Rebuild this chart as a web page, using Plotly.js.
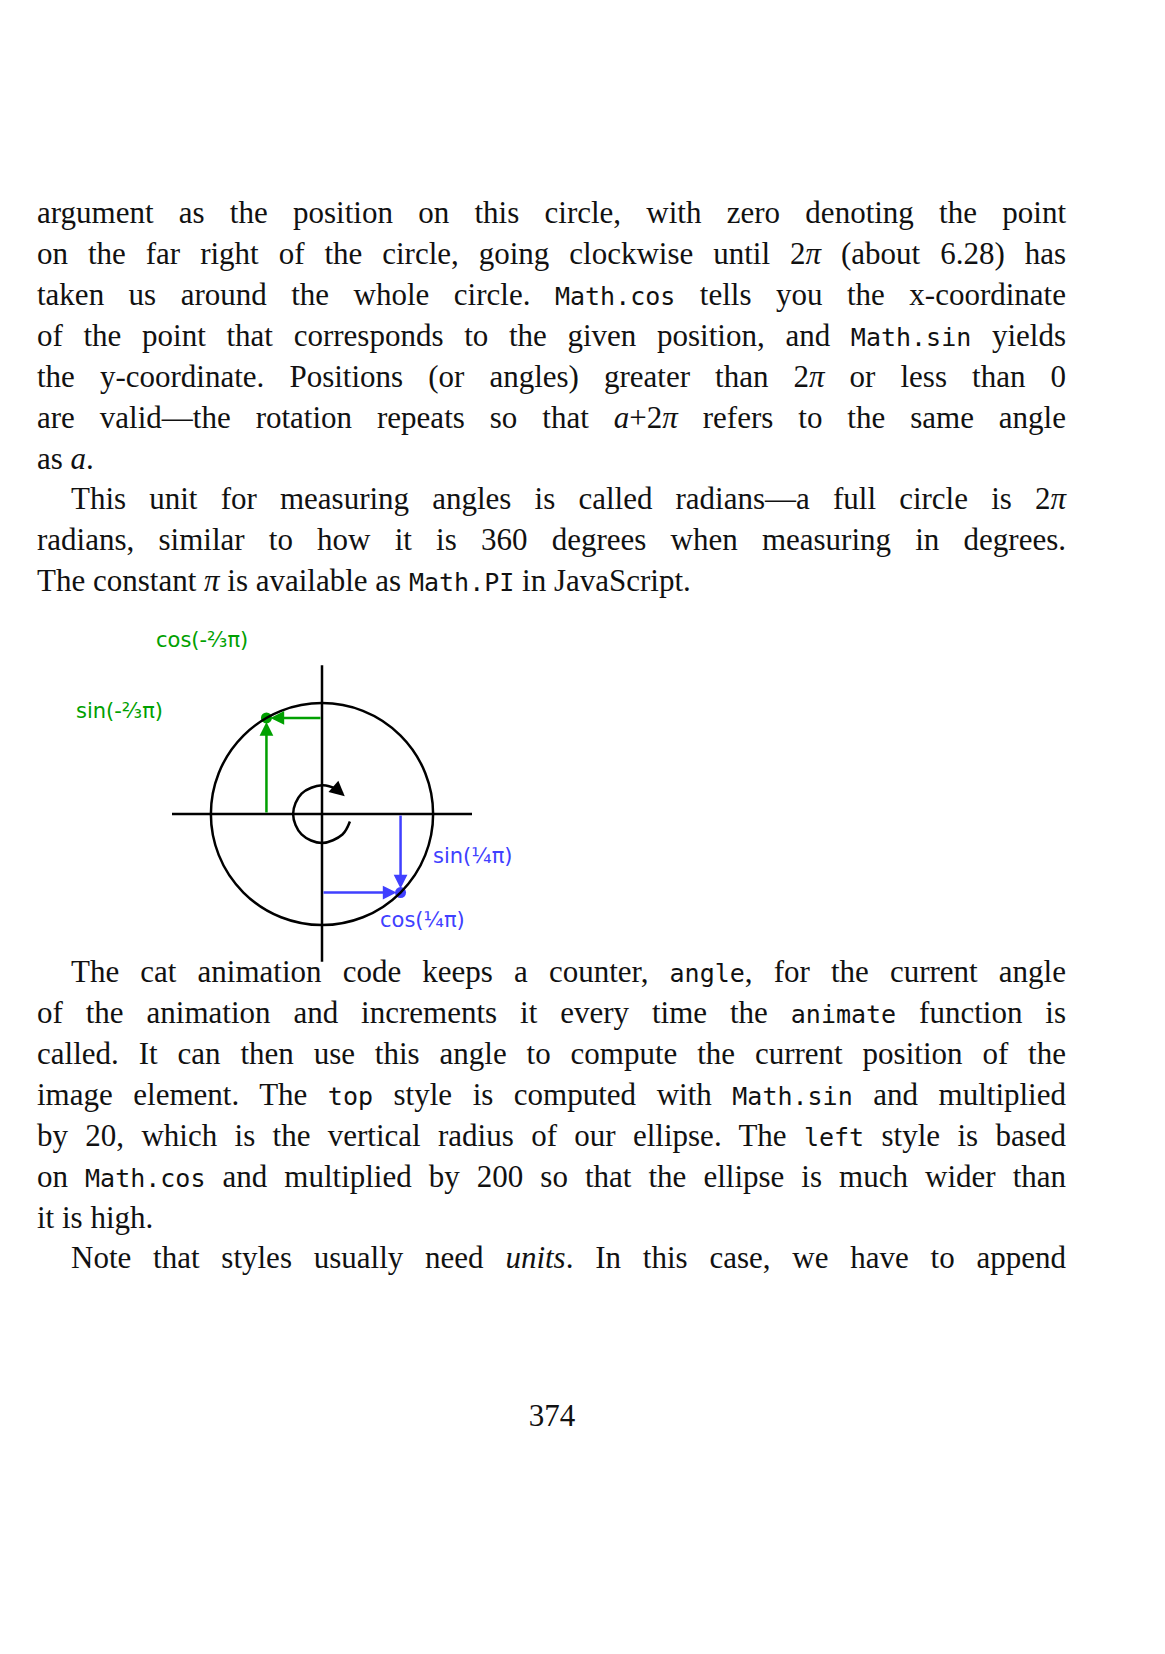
<!DOCTYPE html>
<html>
<head>
<meta charset="utf-8">
<script src="https://cdn.plot.ly/plotly-3.0.1.min.js"></script>
<style>
  body { margin: 0; background: #fff; width: 1165px; height: 1654px; position: relative; overflow: hidden; }
  .ln { position: absolute; left: 37px; width: 1029px; height: 41px; line-height: 41px;
        font-family: "Liberation Serif", "DejaVu Serif", serif; font-size: 31px; color: #111;
        text-align: justify; text-align-last: justify; white-space: nowrap; }
  .ln.last { text-align-last: left; }
  .ln.ind { left: 71px; width: 995px; }
  code { font-family: "DejaVu Sans Mono", monospace; font-size: 25px; }
  #plotly__graph { position: absolute; left: 22px; top: 620px; width: 500px; height: 360px; }
  #pageno { position: absolute; left: 0; width: 1104px; top: 1398px; text-align: center;
            font-family: "Liberation Serif", serif; font-size: 31px; color: #111; }
</style>
</head>
<body>
<div class="ln" style="top:192px">argument as the position on this circle, with zero denoting the point</div>
<div class="ln" style="top:233px">on the far right of the circle, going clockwise until 2<i>π</i> (about 6.28) has</div>
<div class="ln" style="top:274px">taken us around the whole circle. <code>Math.cos</code> tells you the x-coordinate</div>
<div class="ln" style="top:315px">of the point that corresponds to the given position, and <code>Math.sin</code> yields</div>
<div class="ln" style="top:356px">the y-coordinate. Positions (or angles) greater than 2<i>π</i> or less than 0</div>
<div class="ln" style="top:397px">are valid—the rotation repeats so that <i>a</i>+2<i>π</i> refers to the same angle</div>
<div class="ln last" style="top:438px">as <i>a</i>.</div>
<div class="ln ind" style="top:478px">This unit for measuring angles is called radians—a full circle is 2<i>π</i></div>
<div class="ln" style="top:519px">radians, similar to how it is 360 degrees when measuring in degrees.</div>
<div class="ln last" style="top:560px">The constant <i>π</i> is available as <code>Math.PI</code> in JavaScript.</div>

<div id="plotly__graph"></div>

<div class="ln ind" style="top:951px">The cat animation code keeps a counter, <code>angle</code>, for the current angle</div>
<div class="ln" style="top:992px">of the animation and increments it every time the <code>animate</code> function is</div>
<div class="ln" style="top:1033px">called. It can then use this angle to compute the current position of the</div>
<div class="ln" style="top:1074px">image element. The <code>top</code> style is computed with <code>Math.sin</code> and multiplied</div>
<div class="ln" style="top:1115px">by 20, which is the vertical radius of our ellipse. The <code>left</code> style is based</div>
<div class="ln" style="top:1156px">on <code>Math.cos</code> and multiplied by 200 so that the ellipse is much wider than</div>
<div class="ln last" style="top:1197px">it is high.</div>
<div class="ln ind" style="top:1237px">Note that styles usually need <i>units</i>. In this case, we have to append</div>
<div id="pageno">374</div>

<script>
// DATA (unit circle, y grows downward like the screen)
const point_names = ['-⅔π', '¼π'];
const point_x = [-0.5, 0.707];
const point_y = [-0.866, 0.707];
const point_colors = ['#00a000', '#4040ff'];

// small rotation arrow, angles in degrees (screen direction)
const spin_angles = [15, 45, 90, 135, 180, 225, 270, 300, 315];
const spin_radius = 0.26;

const div = document.getElementById('plotly__graph');
const black = '#000';

let spin = {
  type: 'scatter', mode: 'lines', hoverinfo: 'skip',
  x: spin_angles.map(a => spin_radius * Math.cos(a * Math.PI / 180)),
  y: spin_angles.map(a => spin_radius * Math.sin(a * Math.PI / 180)),
  line: { color: black, width: 2.5, shape: 'spline' }
};

let pts = {
  type: 'scatter', mode: 'markers', hoverinfo: 'skip',
  x: point_x, y: point_y,
  marker: { color: point_colors, size: 11 }
};

let shapes = [
  { type: 'line', x0: -1.35, x1: 1.35, y0: 0, y1: 0, line: { color: black, width: 2.5 } },
  { type: 'line', x0: 0, x1: 0, y0: -1.34, y1: 1.33, line: { color: black, width: 2.5 } },
  { type: 'circle', x0: -1, x1: 1, y0: -1, y1: 1, line: { color: black, width: 2.5 } }
];

const arrow = (x, y, ax, ay, color) => ({
  x: x, y: y, ax: ax, ay: ay, xref: 'x', yref: 'y', axref: 'x', ayref: 'y',
  text: '', showarrow: true, arrowhead: 2, arrowsize: 1.1, arrowwidth: 2.5,
  arrowcolor: color, standoff: 4
});

const label = (x, y, text, color) => ({
  x: x, y: y, xref: 'x', yref: 'y', text: text, showarrow: false, xanchor: 'left',
  font: { family: 'DejaVu Sans', size: 21, color: color }
});

let annotations = [
  arrow(point_x[0], point_y[0], 0, point_y[0], point_colors[0]),
  arrow(point_x[0], point_y[0], point_x[0], 0, point_colors[0]),
  arrow(point_x[1], point_y[1], point_x[1], 0, point_colors[1]),
  arrow(point_x[1], point_y[1], 0, point_y[1], point_colors[1]),
  // spin arrowhead
  { x: spin_radius * Math.cos(-38 * Math.PI / 180), y: spin_radius * Math.sin(-38 * Math.PI / 180),
    ax: spin_radius * Math.cos(-60 * Math.PI / 180), ay: spin_radius * Math.sin(-60 * Math.PI / 180),
    xref: 'x', yref: 'y', axref: 'x', ayref: 'y', text: '', showarrow: true,
    arrowhead: 2, arrowsize: 1.2, arrowwidth: 2.5, arrowcolor: black },
  label(-1.51, -1.57, 'cos(' + point_names[0] + ')', point_colors[0]),
  label(-2.23, -0.93, 'sin(' + point_names[0] + ')', point_colors[0]),
  label(0.98, 0.38, 'sin(' + point_names[1] + ')', point_colors[1]),
  label(0.5, 0.95, 'cos(' + point_names[1] + ')', point_colors[1])
];

let layout = {
  width: 500, height: 360,
  margin: { t: 0, r: 0, b: 0, l: 0, pad: 0 },
  paper_bgcolor: 'rgba(0,0,0,0)', plot_bgcolor: 'rgba(0,0,0,0)',
  showlegend: false, dragmode: false,
  xaxis: { range: [-2.7, 1.8], visible: false, fixedrange: true },
  yaxis: { range: [1.495, -1.748], visible: false, fixedrange: true },
  shapes: shapes,
  annotations: annotations
};

const config = { displayModeBar: false, responsive: false, staticPlot: true };

Plotly.newPlot(div, [spin, pts], layout, config);
</script>
</body>
</html>
